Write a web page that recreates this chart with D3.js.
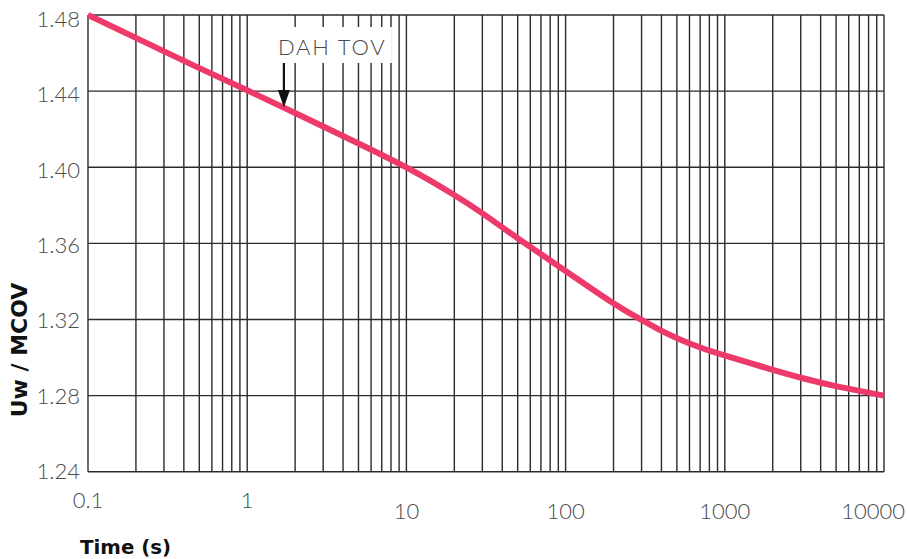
<!DOCTYPE html>
<html>
<head>
<meta charset="utf-8">
<script src="https://cdn.jsdelivr.net/npm/d3@7/dist/d3.min.js"></script>
<style>
  html, body { margin: 0; padding: 0; background: #fff; }
  svg { display: block; }
</style>
</head>
<body>
<div id="chart"></div>
<script>
// ---- data ----
const times  = [0.1, 0.2, 0.5, 1, 2, 5, 10, 20, 30, 50, 100, 200, 300, 400, 500, 700, 1000, 2000, 3000, 5000, 10000];
const ratios = [1.480, 1.468, 1.452, 1.4405, 1.4285, 1.4125, 1.4003, 1.3856, 1.3760, 1.3625, 1.3456, 1.3281, 1.3197, 1.3139, 1.3101, 1.3051, 1.3010, 1.2935, 1.2893, 1.2847, 1.2800];
const xTickLabels = [0.1, 1, 10, 100, 1000, 10000];
const yTickLabels = [1.24, 1.28, 1.32, 1.36, 1.40, 1.44, 1.48];
const annotationText = "DAH TOV";
const annotationTime = 1.7;
const xTitle = "Time (s)";
const yTitle = "Uw / MCOV";

// ---- layout ----
const W = 907, H = 559;
const plotL = 88, plotR = 884, plotT = 15, plotB = 471.7;

const svg = d3.select("#chart").append("svg")
  .attr("width", W).attr("height", H);

const x = d3.scaleLog().domain([0.1, 10000]).range([plotL, plotR]);
const y = d3.scaleLinear().domain([1.24, 1.48]).range([plotB, plotT]);
const yLabel = d3.scaleLinear().domain([1.24, 1.48]).range([479, 27]);

const gridColor = "#2b2b2b";
const labelFont = "Lato, 'Open Sans', sans-serif";

// vertical grid lines (1..9 per decade)
const g = svg.append("g");
g.selectAll("line.vg").data(x.ticks()).join("line")
  .attr("class", "vg")
  .attr("x1", d => x(d)).attr("x2", d => x(d))
  .attr("y1", plotT).attr("y2", plotB)
  .attr("stroke", gridColor).attr("stroke-width", 1.4);

// horizontal grid lines
g.selectAll("line.hg").data(yTickLabels).join("line")
  .attr("class", "hg")
  .attr("x1", plotL).attr("x2", plotR)
  .attr("y1", d => y(d)).attr("y2", d => y(d))
  .attr("stroke", gridColor).attr("stroke-width", 1.4);

// annotation white background box
const annX = x(annotationTime);
svg.append("rect")
  .attr("x", annX - 12).attr("y", 27)
  .attr("width", 120).attr("height", 36)
  .attr("fill", "#fff");

// curve
const line = d3.line()
  .x((d, i) => x(times[i]))
  .y((d, i) => y(ratios[i]))
  .curve(d3.curveBasis);
svg.append("path")
  .datum(ratios)
  .attr("d", line)
  .attr("fill", "none")
  .attr("stroke", "#ee3a6b")
  .attr("stroke-width", 6)
  .attr("stroke-linecap", "butt");

// annotation text and arrow
svg.append("text")
  .attr("x", annX - 6).attr("y", 55)
  .attr("font-family", labelFont).attr("font-weight", 300)
  .attr("font-size", 22).attr("letter-spacing", 1.8)
  .attr("fill", "#4a4a4a")
  .text(annotationText);
svg.append("line")
  .attr("x1", annX).attr("x2", annX)
  .attr("y1", 63).attr("y2", 92)
  .attr("stroke", "#111").attr("stroke-width", 2.2);
svg.append("path")
  .attr("d", `M${annX - 6},90 L${annX + 6},90 L${annX},107.5 Z`)
  .attr("fill", "#111");

// y tick labels
svg.append("g").selectAll("text").data(yTickLabels).join("text")
  .attr("x", 80).attr("y", d => yLabel(d))
  .attr("text-anchor", "end")
  .attr("font-family", labelFont).attr("font-weight", 300)
  .attr("font-size", 22).attr("fill", "#4a4a4a")
  .text(d => d.toFixed(2));

// x tick labels
const xl = svg.append("g").selectAll("text").data(xTickLabels).join("text")
  .attr("x", d => x(d))
  .attr("y", d => d < 10 ? 508 : 519)
  .attr("text-anchor", "middle")
  .attr("font-family", labelFont).attr("font-weight", 300)
  .attr("font-size", 22).attr("fill", "#4a4a4a")
  .text(d => String(d));
// keep labels inside the svg
xl.each(function(d) {
  const w = this.getComputedTextLength();
  const cx = Math.min(x(d), W - 2 - w / 2);
  d3.select(this).attr("x", cx);
});

// axis titles
svg.append("text")
  .attr("x", 80).attr("y", 554)
  .attr("font-family", "'DejaVu Sans', sans-serif").attr("font-weight", "bold")
  .attr("font-size", 19.8).attr("fill", "#111")
  .text(xTitle);
svg.append("text")
  .attr("transform", "translate(27,350) rotate(-90)")
  .attr("text-anchor", "middle")
  .attr("font-family", "'DejaVu Sans', sans-serif").attr("font-weight", "bold")
  .attr("font-size", 22).attr("fill", "#111")
  .text(yTitle);
</script>
</body>
</html>
